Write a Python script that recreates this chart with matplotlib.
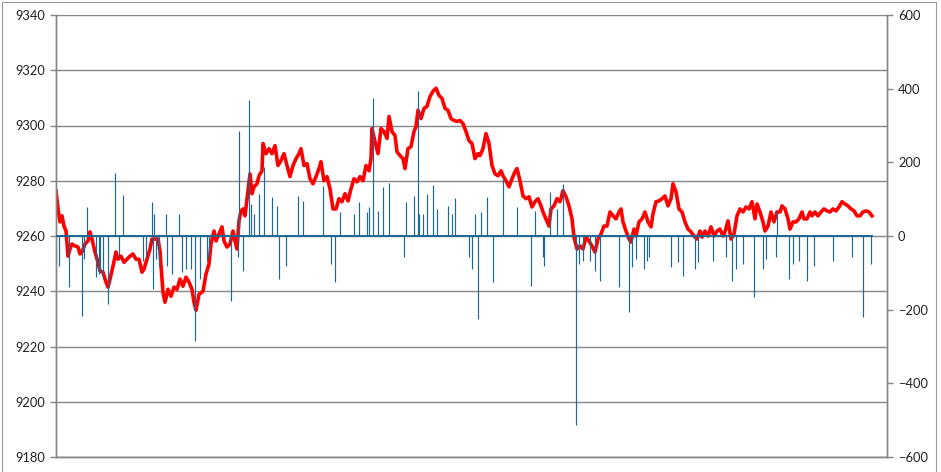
import matplotlib
matplotlib.use("Agg")
import matplotlib.pyplot as plt
from matplotlib.patches import Rectangle

# ---- data (time index, price) ----
price_t = [0, 2, 4, 6, 8, 10, 12, 14, 16, 19, 22, 24, 26, 29, 32, 34, 36, 39, 42, 44, 47, 50, 52, 54, 57,
           60, 62, 65, 68, 71, 74, 77, 80, 83, 86, 88, 91, 94, 96, 99, 102, 104, 107, 109, 112, 115, 118,
           121, 124, 127, 130, 133, 136, 138, 140, 143, 147, 150, 153, 155, 158, 160, 163, 166, 168, 171,
           174, 177, 179, 181, 183, 185, 187, 189, 192, 194, 196, 198, 201, 203, 206, 207, 210, 213,
           216, 219, 222, 225, 228, 231, 234, 237, 240, 243, 245, 248, 251, 254, 257, 260, 263, 265, 268,
           271, 274, 277, 280, 283, 286, 289, 292, 295, 298, 301, 304, 307, 310, 313, 315, 316, 319, 322,
           325, 328, 331, 333, 336, 339, 341, 344, 347, 349, 352, 355, 358, 360, 362, 365, 368, 371, 374,
           377, 380, 383, 386, 389, 392, 395, 398, 401, 404, 407, 410, 413, 416, 419, 422, 424, 427, 430,
           433, 436, 439, 442, 445, 447, 450, 453, 456, 459, 461, 464, 467, 470, 473, 476, 479, 482, 485,
           487, 490, 493, 495, 498, 501, 504, 507, 510, 513, 516, 518, 521, 524, 527, 530, 533, 536, 539,
           542, 545, 548, 551, 554, 557, 560, 563, 565, 567, 570, 573, 575, 578, 580, 583, 586, 589, 592,
           595, 597, 600, 603, 606, 609, 612, 615, 617, 620, 623, 626, 629, 632, 635, 638, 641, 644, 646,
           649, 652, 655, 658, 661, 664, 667, 669, 672, 675, 678, 681, 684, 687, 690, 693, 696, 699, 701,
           704, 707, 709, 712, 715, 718, 721, 724, 726, 729, 732, 734, 737, 740, 743, 746, 748, 751, 754,
           756, 759, 762, 765, 768, 771, 774, 777, 780, 783, 786, 789, 792, 795, 798, 801, 804, 807, 810,
           813, 816]
price_v = [9276.4, 9269.8, 9265.1, 9267.3, 9263.6, 9261.8, 9252.7, 9255.3, 9257.1, 9256.4, 9256.0,
           9253.5, 9254.2, 9257.1, 9258.2, 9261.5, 9258.9, 9254.2, 9250.5, 9247.3, 9246.9, 9243.3,
           9241.5, 9244.4, 9249.1, 9254.2, 9251.6, 9252.7, 9250.5, 9251.6, 9252.7, 9253.5, 9251.6,
           9251.6, 9246.9, 9248.0, 9251.6, 9255.3, 9258.9, 9258.9, 9258.9, 9254.5, 9239.6, 9236.0,
           9240.7, 9238.2, 9241.5, 9240.7, 9244.4, 9241.8, 9245.1, 9243.3, 9240.7, 9236.0, 9233.1,
           9238.9, 9240.0, 9246.2, 9249.8, 9257.1, 9261.8, 9258.2, 9260.7, 9263.3, 9258.2, 9256.0,
           9257.1, 9261.8, 9258.2, 9255.3, 9265.5, 9269.1, 9269.8, 9267.3, 9276.4, 9282.5, 9275.3,
           9277.8, 9278.9, 9281.8, 9283.6, 9293.5, 9289.8, 9291.6, 9289.8, 9292.7, 9285.5, 9287.3,
           9289.8, 9285.5, 9281.5, 9285.5, 9288.0, 9289.8, 9291.6, 9285.5, 9286.2, 9280.7, 9278.9,
           9281.5, 9284.4, 9286.9, 9280.0, 9281.5, 9277.1, 9269.8, 9269.8, 9273.5, 9272.4, 9275.3,
           9272.7, 9277.1, 9280.7, 9279.6, 9281.5, 9280.0, 9285.5, 9283.6, 9288.0, 9298.9, 9294.2,
           9289.8, 9298.9, 9297.8, 9295.3, 9303.3, 9297.8, 9296.4, 9290.5, 9289.1, 9288.0, 9284.4,
           9291.6, 9292.4, 9297.8, 9299.6, 9305.5, 9302.5, 9306.2, 9306.9, 9310.5, 9312.4, 9313.5,
           9310.9, 9309.8, 9306.2, 9305.5, 9302.5, 9301.8, 9301.5, 9301.8, 9300.7, 9297.8, 9294.5,
           9293.5, 9288.0, 9289.8, 9289.1, 9291.6, 9297.1, 9293.5, 9285.5, 9282.5, 9281.8, 9283.6,
           9281.8, 9280.0, 9277.8, 9280.7, 9283.3, 9284.4, 9280.0, 9274.5, 9273.5, 9274.2, 9270.5,
           9272.4, 9273.5, 9270.9, 9268.7, 9266.2, 9263.6, 9269.8, 9270.9, 9273.5, 9272.4, 9276.4,
           9274.2, 9270.9, 9266.2, 9259.6, 9255.3, 9256.4, 9255.3, 9259.6, 9258.2, 9256.4, 9254.2,
           9258.9, 9260.7, 9263.6, 9263.6, 9268.7, 9267.3, 9266.2, 9268.7, 9269.8, 9265.1, 9261.8,
           9258.9, 9257.8, 9262.5, 9260.0, 9265.1, 9266.2, 9268.7, 9265.1, 9263.3, 9268.0, 9272.4,
           9272.7, 9273.5, 9274.5, 9270.9, 9273.5, 9278.9, 9276.0, 9269.8, 9268.7, 9265.1, 9262.5,
           9261.5, 9260.0, 9258.9, 9261.8, 9259.6, 9261.8, 9260.0, 9263.3, 9260.0, 9261.8, 9262.5,
           9260.0, 9261.5, 9265.5, 9258.9, 9260.7, 9267.3, 9269.8, 9268.7, 9270.5, 9269.8, 9272.4,
           9266.2, 9271.6, 9268.7, 9265.1, 9261.8, 9263.6, 9268.7, 9265.1, 9268.7, 9268.7, 9270.9,
           9269.8, 9266.2, 9262.5, 9265.1, 9265.1, 9266.2, 9268.7, 9266.2, 9266.2, 9268.7, 9267.3,
           9268.7, 9267.3, 9268.7, 9269.8, 9269.1, 9268.7, 9269.8, 9269.1, 9270.5, 9272.4, 9271.6,
           9270.9, 9269.8, 9269.1, 9267.3, 9267.3, 9268.7, 9269.1, 9268.7, 9267.3]

# ---- data (time index, volume-type spikes on secondary axis) ----
spike_t = [3, 13, 26, 28, 31, 40, 43, 44, 47, 52, 59, 63, 67, 87, 90, 96, 97, 98, 100, 103, 110, 111,
           116, 123, 126, 130, 135, 139, 144, 151, 153, 175, 182, 183, 187, 193, 195, 198, 203, 208, 216,
           221, 223, 230, 242, 247, 267, 275, 279, 284, 298, 303, 311, 313, 317, 322, 327, 333, 348, 350,
           358, 362, 363, 367, 371, 377, 381, 392, 396, 399, 413, 416, 419, 422, 425, 431, 437, 447, 461,
           475, 479, 487, 488, 494, 501, 507, 520, 523, 527, 534, 539, 544, 563, 573, 576, 580, 588, 591,
           593, 615, 622, 627, 639, 642, 657, 670, 676, 680, 687, 698, 707, 710, 720, 721, 733, 737, 743,
           751, 758, 777, 796, 807, 815]
spike_v = [-82, -139, -218, -63, 79, -112, -104, -95, -117, -185, 172, -57, 112, -68, -57, 93, -145, 60,
           -63, -85, 60, -82, -104, 60, -98, -90, -90, -286, -117, -68, -57, -177, -57, 286, -95, 368, 87,
           60, 115, 188, 106, 82, -117, -82, 109, 95, 136, -76, -125, 65, 60, 93, 65, 79, 374, 68, 134,
           145, -57, 93, 109, 395, 60, 60, 115, 139, 74, 82, 60, 104, -57, -90, 60, -226, 65, 106, -125,
           155, 79, -136, 68, -57, -82, 120, 74, 142, -513, -76, -68, -68, -95, -123, -139, -205, -85,
           -63, -90, -68, -57, -85, -71, -109, -90, -71, -68, -57, -123, -90, -76, -166, -90, -63, -57,
           68, -117, -76, -68, -123, -82, -68, -57, -221, -76]

left_ticks = [9180, 9200, 9220, 9240, 9260, 9280, 9300, 9320, 9340]
right_ticks = [-600, -400, -200, 0, 200, 400, 600]

plt.rcParams['font.family'] = ['Lato', 'DejaVu Sans']

W, H = 941, 472
fig = plt.figure(figsize=(W / 100, H / 100), dpi=100)
fig.patch.set_facecolor('white')

ax = fig.add_axes([56 / W, 15 / H, (887 - 56) / W, (457 - 15) / H])
ax2 = ax.twinx()

grid_c = '#868686'
ax.set_ylim(9180, 9340)
ax.set_yticks(left_ticks)
ax.set_xlim(0, 831)
ax.set_xticks([])
for y in left_ticks:
    ax.axhline(y, color=grid_c, lw=1.0, zorder=0)

ax.plot(price_t, price_v, color='#FF0000', lw=2.6, zorder=2, solid_joinstyle='round')

ax2.set_ylim(-600, 600)
ax2.set_yticks(right_ticks)
blue = '#1D6896'
ax2.plot([price_t[0], price_t[-1]], [0, 0], color=blue, lw=1.4, zorder=3)
ax2.vlines(spike_t, 0, spike_v, color=blue, lw=0.85, zorder=3)

for a in (ax, ax2):
    for s in a.spines.values():
        s.set_color(grid_c)
        s.set_linewidth(1.0)
ax2.spines['top'].set_visible(False)
ax.spines['top'].set_visible(False)

ax.tick_params(axis='y', direction='out', length=4.5, width=1.0, color=grid_c,
               labelsize=9.3, labelcolor='#222222', pad=3)
ax2.tick_params(axis='y', direction='out', length=4, width=1.0, color=grid_c,
                labelsize=9.3, labelcolor='#222222', pad=4)

# chart-area border
fig.add_artist(Rectangle((2 / W, -0.1), (936 - 2) / W, 1 - 2 / H + 0.1,
                         transform=fig.transFigure, fill=False, ec='#9a9a9a', lw=0.8))

fig.savefig('out.png', dpi=100, facecolor='white')
